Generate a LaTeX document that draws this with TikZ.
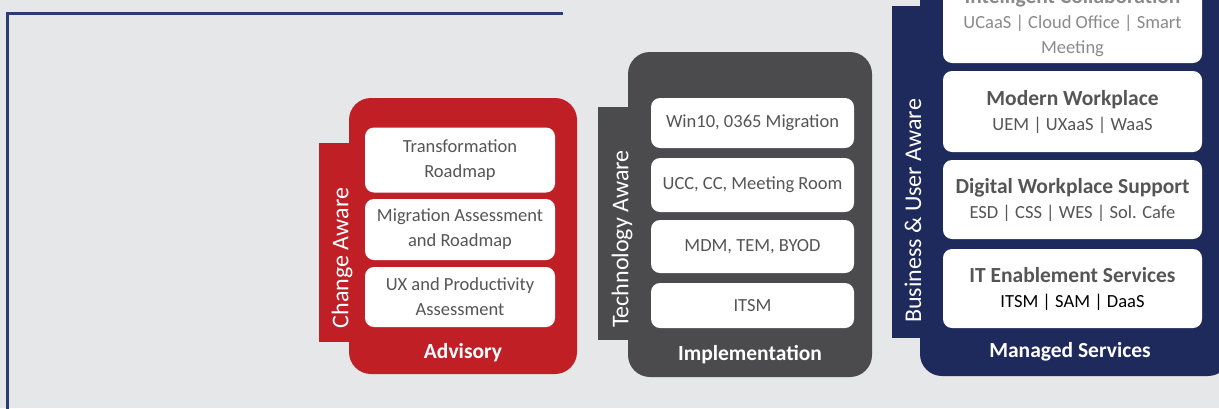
\documentclass[tikz,border=0pt]{standalone}
\usepackage{fontspec}
\setmainfont{Carlito}
\usepackage{xcolor}
\usepackage{tikz}

\definecolor{bgGray}{HTML}{E6E7E8}
\definecolor{frameNavy}{HTML}{2B3E73}
\definecolor{advRed}{HTML}{C01F26}
\definecolor{implGray}{HTML}{4B4B4D}
\definecolor{mgdNavy}{HTML}{1F2A5C}
\definecolor{boxText}{HTML}{555555}
\definecolor{paleText}{HTML}{8A8A8A}

\tikzset{
  itembox/.style={fill=white, rounded corners=9pt, text=boxText, align=center,
    font=\fontsize{18.5}{25}\selectfont, inner sep=0pt},
  blocktitle/.style={text=white, font=\bfseries\fontsize{21.5}{24}\selectfont},
  sidelabel/.style={text=white, rotate=90, font=\fontsize{24}{26}\selectfont}
}
\newcommand{\boxhead}[1]{\textbf{\fontsize{21.5}{27}\selectfont #1}}

\begin{document}
\begin{tikzpicture}[x=1pt, y=-1pt]
% Background and frame
\fill[bgGray] (0,0) rectangle (1219,408);
\useasboundingbox (0,0) rectangle (1219,408);
\draw[frameNavy, line width=3pt] (563,13) -- (7,13) -- (7,410);

% Advisory block
\fill[advRed, rounded corners=22pt] (349,98) rectangle (577,374);
\fill[advRed] (319,143) rectangle (350,342);
\node[itembox, minimum width=190pt, minimum height=65pt] (transroad) at (460,160) {Transformation\\Roadmap};
\node[itembox, minimum width=190pt, minimum height=61pt] (migassess) at (460,229.5) {Migration Assessment\\and Roadmap};
\node[itembox, minimum width=190pt, minimum height=60pt] (uxassess) at (460,297) {UX and Productivity\\Assessment};
\node[blocktitle] (advisory) at (463,353) {Advisory};
\node[sidelabel] (changeaware) at (342,258) {Change Aware};

% Implementation block
\fill[implGray, rounded corners=22pt] (628,52) rectangle (872,377);
\fill[implGray] (598,107) rectangle (629,340);
\node[itembox, minimum width=203pt, minimum height=50pt] (winmig) at (752.5,123) {Win10, 0365 Migration};
\node[itembox, minimum width=203pt, minimum height=54pt] (ucc) at (752.5,185) {UCC, CC, Meeting Room};
\node[itembox, minimum width=203pt, minimum height=53pt] (mdm) at (752.5,246.5) {MDM, TEM, BYOD};
\node[itembox, minimum width=203pt, minimum height=45pt] (itsm) at (752.5,305.5) {ITSM};
\node[blocktitle] (implementation) at (750,355) {Implementation};
\node[sidelabel] (techaware) at (622,239) {Technology Aware};

% Managed services block
\fill[mgdNavy, rounded corners=22pt] (920,-40) rectangle (1230,376);
\fill[mgdNavy] (892,6) rectangle (921,338);
\node[itembox, text=paleText, minimum width=259pt, minimum height=80pt] (intcollab) at (1072.5,23)
  {\boxhead{Intelligent Collaboration}\\UCaaS | Cloud Office | Smart\\Meeting};
\node[itembox, minimum width=259pt, minimum height=81pt] (modwork) at (1072.5,111.5)
  {\boxhead{Modern Workplace}\\UEM | UXaaS | WaaS};
\node[itembox, minimum width=259pt, minimum height=79pt] (dwsupport) at (1072.5,199.5)
  {\boxhead{Digital Workplace Support}\\ESD | CSS | WES | Sol. Cafe};
\node[itembox, minimum width=259pt, minimum height=79pt] (itenable) at (1072.5,288.5)
  {\boxhead{IT Enablement Services}\\\textcolor{black}{ITSM | SAM | DaaS}};
\node[blocktitle] (managed) at (1070,352) {Managed Services};
\node[sidelabel] (bizaware) at (913,211) {Business \& User Aware};
\end{tikzpicture}
\end{document}
